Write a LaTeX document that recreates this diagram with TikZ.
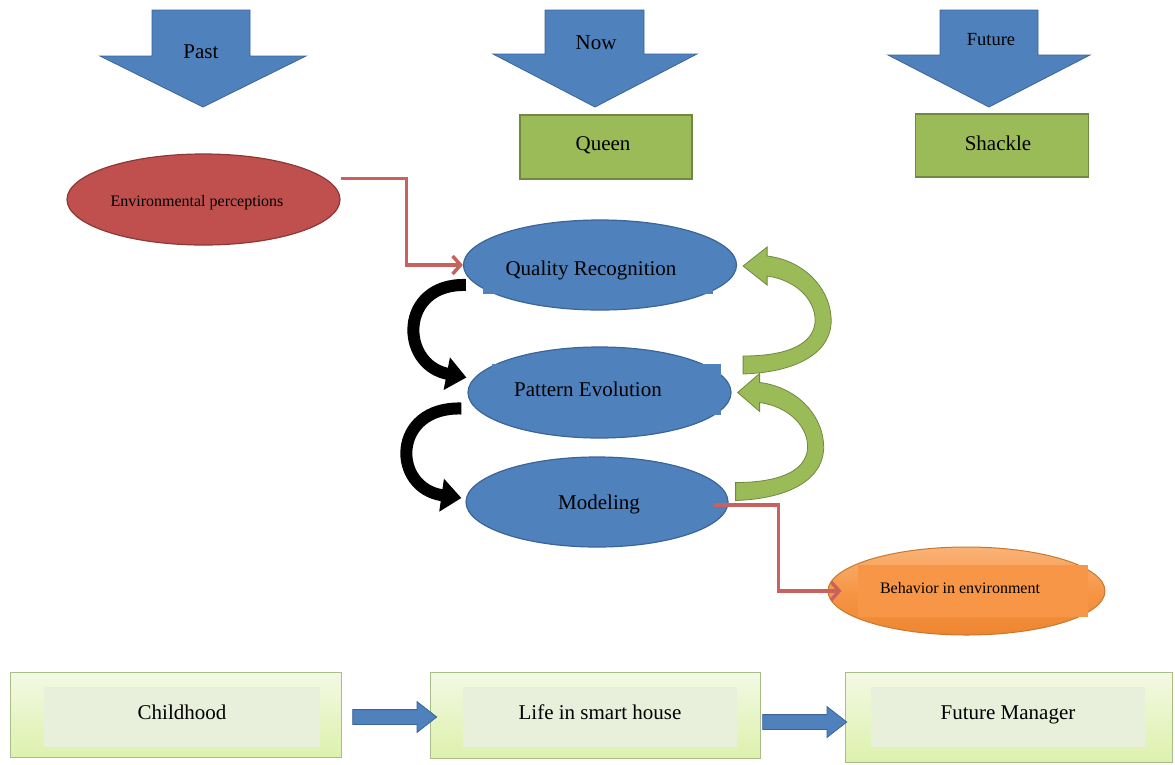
\documentclass[tikz,border=0pt]{standalone}
\usepackage{fontspec}
\setmainfont{Liberation Serif}
\usetikzlibrary{shapes.geometric,shapes.arrows,arrows.meta,calc}
\definecolor{ablue}{HTML}{4F81BD}
\definecolor{ablueD}{HTML}{3B6497}
\definecolor{agreen}{HTML}{9BBB59}
\definecolor{agreenD}{HTML}{71893F}
\definecolor{ared}{HTML}{C0504D}
\definecolor{aredD}{HTML}{8C3836}
\definecolor{aredL}{HTML}{C8625F}
\definecolor{aorange}{HTML}{F79646}
\definecolor{aorangeT}{HTML}{F9B377}
\definecolor{aorangeB}{HTML}{EE8530}
\definecolor{aorangeD}{HTML}{C8782E}
\definecolor{limeA}{HTML}{F3F9E4}
\definecolor{limeB}{HTML}{DDF1AC}
\definecolor{innerg}{HTML}{E8EFDB}
\definecolor{boxedge}{HTML}{A9BC8C}
\begin{document}
\begin{tikzpicture}[x=1pt,y=-1pt,
  ftxt/.style={font=\fontsize{21}{25}\selectfont, inner sep=0pt, anchor=base},
  fsmall/.style={font=\fontsize{16}{19}\selectfont, inner sep=0pt, anchor=base},
  fmid/.style={font=\fontsize{18.5}{22}\selectfont, inner sep=0pt, anchor=base},
  toparrow/.style={fill=ablue, draw=ablueD, line width=0.8pt, line join=miter},
  gbox/.style={rectangle, fill=agreen, draw=agreenD, line width=1.5pt, inner sep=0pt},
  bell/.style={ellipse, fill=ablue, draw=ablueD, line width=1.2pt, inner sep=0pt},
  rell/.style={ellipse, fill=ared, draw=aredD, line width=1.2pt, inner sep=0pt},
  oell/.style={ellipse, top color=aorangeT, bottom color=aorangeB, middle color=aorange,
     draw=aorangeD, line width=1pt, inner sep=0pt},
  outerbox/.style={rectangle, top color=limeA, bottom color=limeB, draw=boxedge,
     line width=0.8pt, inner sep=0pt},
  innerbox/.style={rectangle, fill=innerg, inner sep=0pt},
  redline/.style={draw=aredL, line width=3.5pt,
     -{Straight Barb[length=8pt,width=18pt]}},
  blackarrow/.style={draw=black, line width=12pt,
     -{Triangle[length=20pt,width=32pt]}},
  garrow/.style={fill=agreen, draw=agreenD, line width=0.8pt, line join=miter},
  barrow/.style={single arrow, draw=ablueD, fill=ablue, line width=0.8pt,
     minimum height=84pt, inner sep=7pt, single arrow head extend=8pt,
     single arrow tip angle=76, outer sep=0pt}
]
\useasboundingbox (0,0) rectangle (1175,764);

% ---- top block arrows ----
\filldraw[toparrow] (152,10) -- (250,10) -- (250,56) -- (306,56) -- (203,107)
   -- (100,56) -- (152,56) -- cycle;
\node[ftxt] (past) at (201,58) {Past};
\filldraw[toparrow] (545,10) -- (644,10) -- (644,54) -- (697,54) -- (595,107)
   -- (493,54) -- (545,54) -- cycle;
\node[ftxt] (now) at (596,49.5) {Now};
\filldraw[toparrow] (940,10) -- (1038,10) -- (1038,55) -- (1090,55) -- (989,107)
   -- (888,55) -- (940,55) -- cycle;
\node[fmid] (future) at (991,45.7) {Future};

% ---- green boxes ----
\node[gbox, minimum width=172pt, minimum height=64pt] (queen) at (606,147) {};
\node[ftxt] (queent) at (603,150) {Queen};
\node[gbox, minimum width=173pt, minimum height=63pt] (shackle) at (1002,145.5) {};
\node[ftxt] (shacklet) at (998,150.5) {Shackle};

% ---- ellipses ----
\node[rell, minimum width=273pt, minimum height=91pt] (envp) at (203.5,199.5) {};
\node[fsmall] (envpt) at (197,206) {Environmental perceptions};

\node[bell, minimum width=273pt, minimum height=90pt] (qr) at (600,265) {};
\fill[ablue] (483,245) rectangle (713,294);
\node[ftxt] (qrt) at (591,275) {Quality Recognition};

\node[bell, minimum width=263pt, minimum height=91pt] (pe) at (599.5,392.5) {};
\fill[ablue] (492,364) rectangle (721,415);
\node[ftxt] (pet) at (588,396) {Pattern Evolution};

\node[bell, minimum width=262pt, minimum height=90pt] (mod) at (597,502) {};
\node[ftxt] (modt) at (599,509.5) {Modeling};

\node[oell, minimum width=277pt, minimum height=88pt] (beh) at (966.5,591) {};
\fill[aorange] (858,565) rectangle (1088,617);
\node[fsmall] (beht) at (960,593) {Behavior in environment};

% ---- black curved arrows ----
\draw[blackarrow] ($(qr.west)+(3,20)$) .. controls +(-67,-2) and +(-67,-13) .. ($(pe.west)+(-1,-15)$);
\draw[blackarrow] ($(pe.west)+(-6,16)$) .. controls +(-70,-2) and +(-70,-10) .. ($(mod.west)+(-4,-4)$);

% ---- green curved arrows ----
\begin{scope}[shift={($(qr.east)+(6,1)$)}]
\filldraw[garrow] (0,108) .. controls (58,106) and (90,84) .. (88,52)
   .. controls (86,19) and (58,-6) .. (24,-10) -- (24,-19) -- (0,0) -- (24,19)
   -- (24,10) .. controls (53,14) and (73,34) .. (72,56)
   .. controls (70,79) and (43,90) .. (0,90) -- cycle;
\end{scope}
\begin{scope}[shift={($(pe.east)+(6,0)$)}]
\filldraw[garrow] (-2,108) .. controls (56,106) and (88,84) .. (86,52)
   .. controls (84,19) and (56,-6) .. (22,-10) -- (22,-19) -- (0,0) -- (22,19)
   -- (22,10) .. controls (51,14) and (71,34) .. (70,56)
   .. controls (68,79) and (41,90) .. (-2,90) -- cycle;
\end{scope}

% ---- red connectors ----
\draw[redline] ([yshift=21pt]envp.east) -- ++(66,0) |- (qr.west);
\draw[redline] ([xshift=-15pt,yshift=-3pt]mod.east) -- ++(65,0) |- ([xshift=14pt]beh.west);

% ---- bottom boxes ----
\node[outerbox, minimum width=331pt, minimum height=85pt] (child) at (175.5,714.5) {};
\node[innerbox, minimum width=276pt, minimum height=60pt] (childi) at (182,717) {};
\node[ftxt] (childt) at (182,719) {Childhood};

\node[outerbox, minimum width=330pt, minimum height=86pt] (life) at (595,715) {};
\node[innerbox, minimum width=274pt, minimum height=60pt] (lifei) at (600,717) {};
\node[ftxt] (lifet) at (600,719) {Life in smart house};

\node[outerbox, minimum width=327pt, minimum height=90pt] (fm) at (1008.5,717) {};
\node[innerbox, minimum width=274pt, minimum height=60pt] (fmi) at (1008,717) {};
\node[ftxt] (fmt) at (1008,719) {Future Manager};

\node[barrow] (a1) at (390,717) {};
\node[barrow] (a2) at (800,722) {};
\end{tikzpicture}
\end{document}
